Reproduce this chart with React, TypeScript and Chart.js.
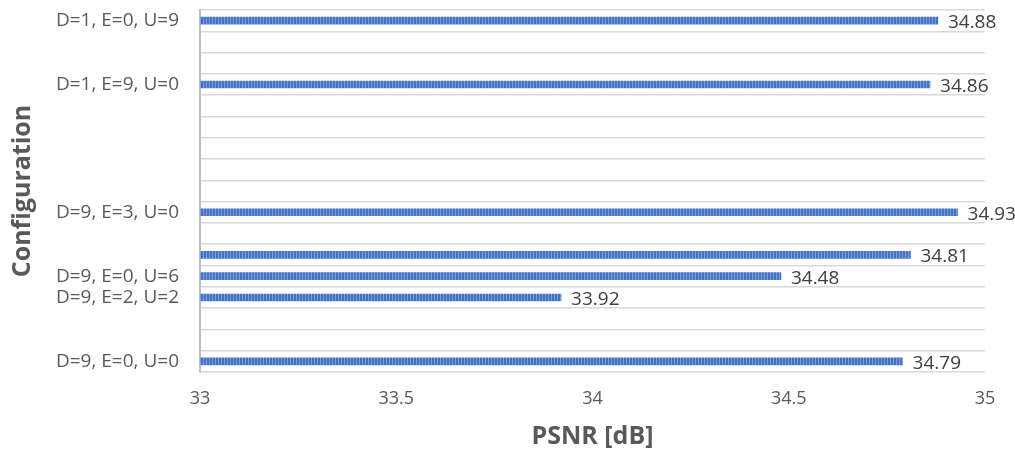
import React, { useEffect, useRef } from "react";
import { Chart, registerables } from "chart.js";

Chart.register(...registerables);

const categories: string[] = [
  "D=1, E=0, U=9",
  "",
  "",
  "D=1, E=9, U=0",
  "",
  "",
  "",
  "",
  "",
  "D=9, E=3, U=0",
  "",
  "",
  "D=9, E=0, U=6",
  "D=9, E=2, U=2",
  "",
  "",
  "D=9, E=0, U=0",
];

const psnrValues: (number | null)[] = [
  34.88, null, null, 34.86, null, null, null, null, null, 34.93, null, 34.81, 34.48, 33.92, null, null, 34.79,
];

const xTicks: number[] = [33, 33.5, 34, 34.5, 35];

const FONT = "'Open Sans', 'Noto Sans', sans-serif";

function makePattern(): CanvasPattern | string {
  const c = document.createElement("canvas");
  c.width = 3;
  c.height = 8;
  const g = c.getContext("2d");
  if (!g) return "#4472C4";
  g.fillStyle = "#4472C4";
  g.fillRect(0, 0, 3, 8);
  g.fillStyle = "#7d9edb";
  g.fillRect(2, 0, 1, 8);
  const p = g.createPattern(c, "repeat");
  return p || "#4472C4";
}

const dataLabelPlugin = {
  id: "barValueLabels",
  afterDatasetsDraw(chart: any) {
    const { ctx } = chart;
    const meta = chart.getDatasetMeta(0);
    ctx.save();
    ctx.font = `19px ${FONT}`;
    ctx.fillStyle = "#404040";
    ctx.textAlign = "left";
    ctx.textBaseline = "middle";
    meta.data.forEach((bar: any, i: number) => {
      const v = psnrValues[i];
      if (v === null || v === undefined) return;
      ctx.fillText(v.toFixed(2), bar.x + 10, bar.y + 2);
    });
    ctx.restore();
  },
};

export default function App() {
  const ref = useRef<HTMLCanvasElement | null>(null);

  useEffect(() => {
    document.body.style.margin = "0";
    if (!ref.current) return;
    const chart = new Chart(ref.current, {
      type: "bar",
      data: {
        labels: categories,
        datasets: [
          {
            data: psnrValues as any,
            backgroundColor: makePattern() as any,
            borderWidth: 0,
            barThickness: 7,
          },
        ],
      },
      options: {
        indexAxis: "y",
        animation: false,
        responsive: false,
        maintainAspectRatio: false,
        layout: { padding: { top: 10, right: 30, left: 0, bottom: 0 } },
        plugins: {
          legend: { display: false },
          tooltip: { enabled: false },
        },
        scales: {
          x: {
            type: "linear",
            min: 33,
            max: 35,
            afterBuildTicks: (scale: any) => {
              scale.ticks = xTicks.map((v) => ({ value: v }));
            },
            afterFit: (scale: any) => {
              scale.height = 82;
            },
            grid: { display: false, drawTicks: false },
            border: { display: false },
            ticks: {
              padding: 16,
              color: "#595959",
              font: { family: FONT, size: 18 },
              callback: (v: any) => String(v),
            },
            title: {
              display: true,
              text: "PSNR [dB]",
              color: "#595959",
              font: { family: FONT, size: 25, weight: "bold" },
              padding: { top: 0, bottom: 2 },
            },
          },
          y: {
            type: "category",
            afterFit: (scale: any) => {
              scale.width = 200;
              scale.paddingTop = 0;
              scale.paddingBottom = 0;
            },
            grid: {
              display: true,
              color: "#d9d9d9",
              lineWidth: 1.5,
              drawTicks: false,
              offset: true,
            },
            border: { display: true, color: "#bfbfbf", width: 2 },
            ticks: {
              autoSkip: false,
              padding: 21,
              color: "#595959",
              font: { family: FONT, size: 19 },
            },
            title: {
              display: true,
              text: "Configuration",
              color: "#595959",
              font: { family: FONT, size: 25, weight: "bold" },
              padding: { top: 8, bottom: 0 },
            },
          },
        },
      },
      plugins: [dataLabelPlugin],
    });
    return () => chart.destroy();
  }, []);

  return (
    <div style={{ width: 1015, height: 454, position: "relative" }}>
      <canvas ref={ref} width={1015} height={454} style={{ width: 1015, height: 454, display: "block" }} />
    </div>
  );
}
